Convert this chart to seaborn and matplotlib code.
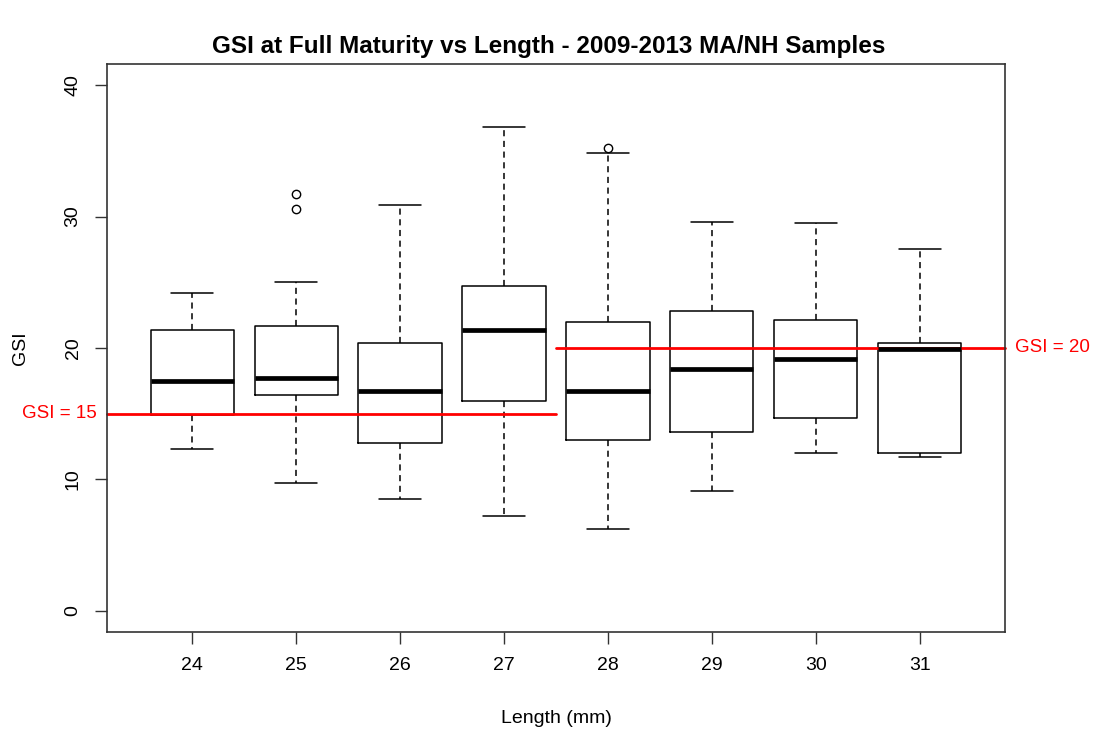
import matplotlib
matplotlib.use("Agg")
import matplotlib.pyplot as plt
import seaborn as sns

# === Datos: resumen de cajas por longitud ===
lengths = [24, 25, 26, 27, 28, 29, 30, 31]
whisker_low = [12.3, 9.7, 8.5, 7.2, 6.2, 9.1, 12.0, 11.7]
q1 = [14.9, 16.4, 12.8, 16.0, 13.0, 13.6, 14.7, 12.0]
medians = [17.5, 17.7, 16.7, 21.4, 16.7, 18.4, 19.2, 19.9]
q3 = [21.4, 21.7, 20.4, 24.7, 22.0, 22.8, 22.1, 20.4]
whisker_high = [24.2, 25.0, 30.9, 36.8, 34.8, 29.6, 29.5, 27.5]
outliers = [[], [30.6, 31.7], [], [], [35.2], [], [], []]

thresholds = [15, 20]

sns.set_style("white")
plt.rcParams['font.family'] = ['Liberation Sans', 'DejaVu Sans']
plt.rcParams['text.color'] = 'black'

stats = []
for i, L in enumerate(lengths):
    stats.append({
        "label": str(L),
        "whislo": whisker_low[i],
        "q1": q1[i],
        "med": medians[i],
        "q3": q3[i],
        "whishi": whisker_high[i],
        "fliers": outliers[i],
    })

fig = plt.figure(figsize=(10.97, 7.34), dpi=100)
ax = fig.add_axes([0.0975, 0.139, 0.8186, 0.7738])

ax.bxp(stats, positions=range(len(lengths)), widths=0.8,
       boxprops=dict(color="black", linewidth=1.1),
       whiskerprops=dict(color="black", linewidth=1.1, linestyle=(0, (4, 3))),
       capprops=dict(color="black", linewidth=1.1),
       medianprops=dict(color="black", linewidth=3.4),
       flierprops=dict(marker="o", markerfacecolor="white", markeredgecolor="black",
                       markersize=6, markeredgewidth=1),
       capwidths=0.4)

ax.set_xlim(-0.82, 7.82)
ax.set_ylim(-1.6, 41.6)

# lineas de umbral
ax.plot([-0.82, 3.5], [thresholds[0], thresholds[0]], color="red", linewidth=2, clip_on=False)
ax.plot([3.5, 7.82], [thresholds[1], thresholds[1]], color="red", linewidth=2, clip_on=False)
ax.text(-0.92, thresholds[0], f"GSI = {thresholds[0]}", color="red", fontsize=13.5,
        ha="right", va="center", clip_on=False)
ax.text(7.92, thresholds[1], f"GSI = {thresholds[1]}", color="red", fontsize=13.5,
        ha="left", va="center", clip_on=False)

ax.set_xticks(range(len(lengths)))
ax.set_xticklabels([str(L) for L in lengths], fontsize=14)
ax.set_yticks([0, 10, 20, 30, 40])
ax.set_yticklabels(["0", "10", "20", "30", "40"], fontsize=14, rotation=90, va="center")
ax.tick_params(axis="both", direction="out", length=8.3, width=1, color="#333333",
               labelcolor="black", pad=10, bottom=True, left=True)

for s in ax.spines.values():
    s.set_visible(True)
    s.set_color("#333333")
    s.set_linewidth(1.2)

ax.set_xlabel("Length (mm)", fontsize=14, color="black")
ax.xaxis.set_label_coords(0.5, -0.153)
ax.xaxis.label.set_va("center")
ax.set_ylabel("GSI", fontsize=14, color="black")
ax.yaxis.set_label_coords(-0.0958, 0.5)
ax.yaxis.label.set_va("center")

fig.text(0.5, 0.937, "GSI at Full Maturity vs Length - 2009-2013 MA/NH Samples",
         ha="center", va="center", fontsize=17.5, fontweight="bold", color="black")

fig.savefig("out.png", dpi=100)
